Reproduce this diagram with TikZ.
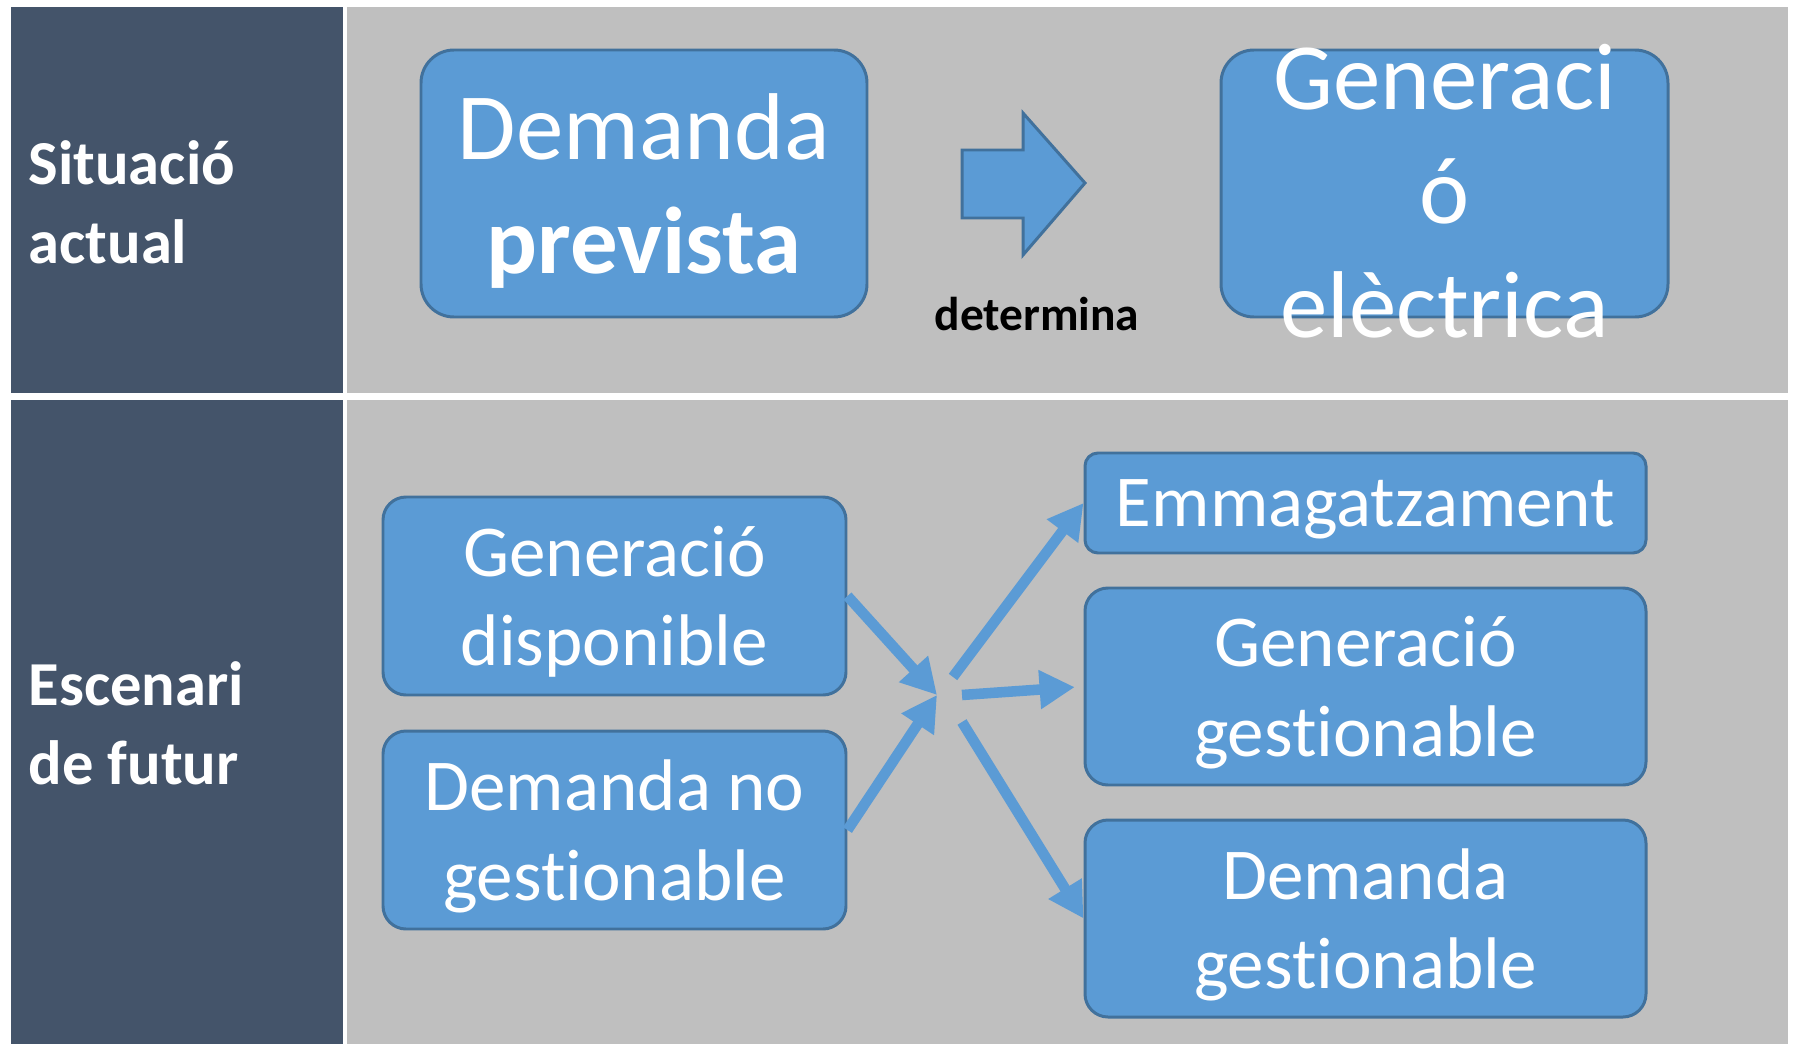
\documentclass[tikz,border=0pt]{standalone}
\usepackage{fontspec}
\setmainfont{Carlito}[Ligatures=NoCommon]
\usetikzlibrary{arrows.meta}
\definecolor{panel}{HTML}{44546A}
\definecolor{back}{HTML}{BFBFBF}
\definecolor{boxfill}{HTML}{5B9BD5}
\definecolor{boxline}{HTML}{41719C}
\begin{document}
\begin{tikzpicture}[x=0.1mm,y=-0.1mm]
\tikzstyle{every node}+=[inner sep=0pt]
\tikzstyle{box}=[draw=boxline,line width=0.85pt,fill=boxfill,text=white,align=center,text depth=-2.8pt]
\tikzstyle{bigtext}=[font=\fontsize{27}{32.5}\selectfont]
\tikzstyle{smalltext}=[font=\fontsize{20.8}{25.5}\selectfont]
\tikzstyle{side}=[text=white,align=left,anchor=west,font=\fontsize{17.8}{22.5}\selectfont\bfseries]
\tikzstyle{link}=[draw=boxfill,line width=3pt,-{Triangle[length=10pt,width=10.5pt]}]
\useasboundingbox (0,0) rectangle (1793,1044);
% background bands
\fill [white] (0,0) rectangle (1793,1044);
\fill [panel] (11,7) rectangle (343,393);
\fill [back] (347,7) rectangle (1788,393);
\fill [panel] (11,400) rectangle (343,1044);
\fill [back] (347,400) rectangle (1788,1044);
\node [side] (now) at (28,202) {Situació\\actual};
\node [side] (fut) at (28,723) {Escenari\\de futur};
% current situation
\node [box,bigtext,minimum width=44.6mm,minimum height=26.7mm,rounded corners=3.3mm] (prev) at (644,183.5) {Demanda\\\textbf{prevista}};
\node [box,minimum width=44.7mm,minimum height=26.7mm,rounded corners=3.3mm] (gelec) at (1444.5,183.5) {};
\node [bigtext,text=white,align=center] (gelectxt) at (1444.5,191) {Generaci\\ó\\elèctrica};
\draw [boxline,line width=0.85pt,fill=boxfill] (962,150) -- (1023,150) -- (1023,113) -- (1085,183) -- (1023,255) -- (1023,218) -- (962,218) -- cycle;
\node [font=\fontsize{13.5}{16}\selectfont\bfseries,anchor=base] (det) at (1037,330) {determina};
% future scenario
\node [box,smalltext,minimum width=46.3mm,minimum height=19.8mm,rounded corners=2.3mm] (gdisp) at (614.5,596) {Generació\\disponible};
\node [box,smalltext,minimum width=46.3mm,minimum height=19.8mm,rounded corners=2.3mm] (dng) at (614.5,830) {Demanda no\\gestionable};
\node [box,smalltext,minimum width=56.1mm,minimum height=10mm,rounded corners=1.3mm] (emmag) at (1365.5,503) {Emmagatzament};
\node [box,smalltext,minimum width=56.1mm,minimum height=19.7mm,rounded corners=2.3mm] (ggest) at (1365.5,686.5) {Generació\\gestionable};
\node [box,smalltext,minimum width=56.1mm,minimum height=19.7mm,rounded corners=2.3mm] (dgest) at (1365.5,918.5) {Demanda\\gestionable};
\coordinate (hub) at (937,695);
\coordinate (out1) at (953,677);
\coordinate (out2) at (962,695);
\coordinate (out3) at (962,722);
\draw [link] (gdisp.east) -- (hub);
\draw [link] (dng.east) -- (hub);
\draw [link] (out1) -- (emmag.west);
\draw [link,shorten >=2.5pt] (out2) -- (ggest.west);
\draw [link] (out3) -- (dgest.west);
\end{tikzpicture}
\end{document}
